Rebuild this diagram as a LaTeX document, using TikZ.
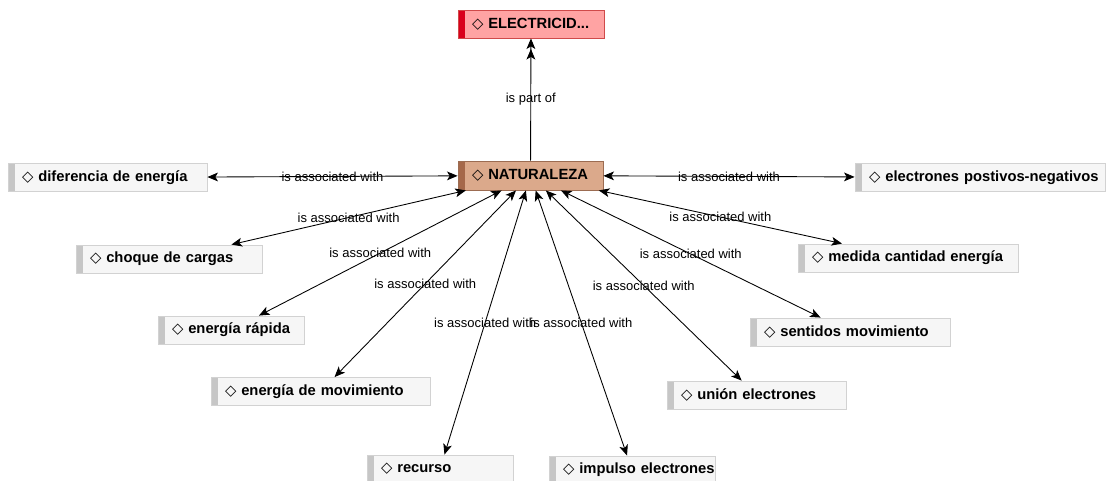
\documentclass[tikz,border=0pt]{standalone}
\usepackage{fontspec}
\setmainfont{Liberation Sans}
\newfontfamily\symfont{DejaVu Sans}
\usetikzlibrary{arrows.meta}
\definecolor{boxgray}{HTML}{F6F6F6}
\definecolor{stripgray}{HTML}{C6C6C6}
\definecolor{linegray}{HTML}{D2D2D2}
\definecolor{redfill}{HTML}{FFA3A3}
\definecolor{redstrip}{HTML}{D9001B}
\definecolor{redline}{HTML}{D04A4A}
\definecolor{tanfill}{HTML}{DBA98B}
\definecolor{tanstrip}{HTML}{A5684A}
\definecolor{tanline}{HTML}{9C6C52}
\newcommand{\dmd}{{\symfont\mdseries\char"25C7}\ }
\begin{document}
\begin{tikzpicture}[x=0.02cm,y=-0.02cm,>={Stealth[length=6pt,width=5pt,inset=1.5pt]},
  concept/.style={draw=linegray,fill=boxgray,line width=0.5pt,rectangle,
    inner xsep=0.16cm,inner ysep=0pt,minimum height=0.56cm,align=left,
    font=\fontsize{8.4}{10}\selectfont\bfseries,
    execute at begin node={\hspace*{0.12cm}\hbox\bgroup},
    execute at end node={\egroup},
    path picture={\fill[#1] (path picture bounding box.south west) rectangle
      ([xshift=0.14cm]path picture bounding box.north west);}},
  concept/.default=stripgray,
  lbl/.style={font=\fontsize{7.4}{9}\selectfont,inner sep=1pt},
  link/.style={<->,line width=0.5pt}]
\useasboundingbox (0,0) rectangle (1108,480);
% main concepts
\node[concept=redstrip,fill=redfill,draw=redline,text width=2.60cm] (elec) at (531,24) {\dmd ELECTRICID...};
\node[concept=tanstrip,fill=tanfill,draw=tanline,text width=2.58cm,minimum height=0.58cm] (nat) at (530.5,175.5) {\dmd NATURALEZA};
% associated concepts
\node[concept,text width=3.66cm] (dif) at (107.5,177.5) {\dmd diferencia de energía};
\node[concept,text width=4.68cm] (elp) at (980,177.5) {\dmd electrones postivos-negativos};
\node[concept,text width=3.40cm] (cho) at (169,259) {\dmd choque de cargas};
\node[concept,text width=4.08cm] (med) at (908,258) {\dmd medida cantidad energía};
\node[concept,text width=2.60cm] (rap) at (231,330) {\dmd energía rápida};
\node[concept,text width=3.68cm] (sen) at (850,332) {\dmd sentidos movimiento};
\node[concept,text width=4.06cm] (mov) at (320.5,391.5) {\dmd energía de movimiento};
\node[concept,text width=3.26cm] (uni) at (756.5,395) {\dmd unión electrones};
\node[concept,text width=2.60cm] (rec) at (440,469) {\dmd recurso};
\node[concept,text width=3.00cm] (imp) at (632,470) {\dmd impulso electrones};
% links
\draw[->>,line width=0.5pt] (nat) -- node[lbl] {is part of} (elec);
\draw[link] (nat) -- node[lbl] {is associated with} (dif);
\draw[link] (nat) -- node[lbl] {is associated with} (elp);
\draw[link] (nat) -- node[lbl] {is associated with} (cho);
\draw[link] (nat) -- node[lbl] {is associated with} (med);
\draw[link] (nat) -- node[lbl] {is associated with} (rap);
\draw[link] (nat) -- node[lbl] {is associated with} (sen);
\draw[link] (nat) -- node[lbl] {is associated with} (mov);
\draw[link] (nat) -- node[lbl] {is associated with} (uni);
\draw[link] (nat) -- node[lbl] {is associated with} (imp);
\draw[link] (nat) -- node[lbl] {is associated with} (rec);
\end{tikzpicture}
\end{document}
